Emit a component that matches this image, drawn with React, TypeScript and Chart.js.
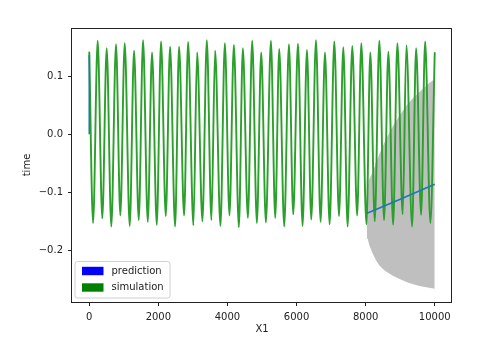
import React, { useEffect, useRef } from 'react';
import { Chart, registerables } from 'chart.js';

Chart.register(...registerables);

// Axis ticks
const xTicks = [0, 2000, 4000, 6000, 8000, 10000];
const yTicks = [-0.2, -0.1, 0.0, 0.1];

// Simulation: local maxima (incl. start and end) and minima
const simPeakX = [0, 243, 504, 774, 1026, 1296, 1557, 1817, 2078, 2339, 2600, 2861, 3122, 3403, 3643, 3925, 4186, 4446, 4716,
  4977, 5258, 5499, 5780, 6041, 6301, 6562, 6823, 7093, 7354, 7614, 7875, 8136, 8397, 8658, 8919, 9180, 9461, 9722, 10000];
const simPeakY = [0.141, 0.161, 0.148, 0.155, 0.157, 0.144, 0.162, 0.141, 0.160, 0.151, 0.151, 0.159, 0.141, 0.162, 0.144, 0.157, 0.154, 0.148, 0.161,
  0.141, 0.161, 0.147, 0.155, 0.156, 0.145, 0.162, 0.141, 0.160, 0.150, 0.152, 0.157, 0.141, 0.161, 0.142, 0.157, 0.153, 0.148, 0.160, 0.140];
const simTroughX = [110, 377, 638, 899, 1171, 1432, 1693, 1954, 2214, 2484, 2745, 3014, 3275, 3536, 3797, 4058, 4330, 4591, 4852,
  5113, 5383, 5643, 5904, 6174, 6426, 6696, 6957, 7229, 7478, 7754, 8023, 8264, 8534, 8796, 9072, 9345, 9606, 9875];
const simTroughY = [-0.153, -0.145, -0.159, -0.140, -0.158, -0.148, -0.151, -0.156, -0.141, -0.159,
  -0.140, -0.157, -0.150, -0.148, -0.158, -0.140, -0.160, -0.144, -0.153, -0.152,
  -0.144, -0.159, -0.138, -0.158, -0.147, -0.151, -0.155, -0.141, -0.159, -0.140,
  -0.155, -0.150, -0.148, -0.156, -0.138, -0.159, -0.139, -0.153];

// Prediction
const predStartX = [0, 0];
const predStartY = [0.0, 0.136];
const predX = [8040, 9000, 10000];
const predY = [-0.136, -0.112, -0.086];

// Uncertainty band
const bandX = [8040, 8060, 8100, 8200, 8300, 8400, 8500, 8600, 8800, 9000, 9200, 9400, 9600, 9800, 10000];
const bandUpper = [-0.136, -0.090, -0.078, -0.066, -0.049, -0.034, -0.020, -0.007, 0.015, 0.034, 0.051, 0.064, 0.075, 0.086, 0.095];
const bandLower = [-0.136, -0.180, -0.190, -0.205, -0.217, -0.226, -0.232, -0.237, -0.244, -0.250, -0.255, -0.259, -0.262, -0.264, -0.266];

const legendLabels = ['prediction', 'simulation'];
const legendColors = ['#0000ff', '#008000'];

const FONT = 'DejaVu Sans';

function fmtY(v: number) {
  const s = Math.abs(v).toFixed(1);
  return v < -1e-9 ? '\u2212' + s : s;
}

export default function App() {
  const ref = useRef<HTMLCanvasElement | null>(null);

  useEffect(() => {
    if (!ref.current) return;
    const simData: { x: number; y: number }[] = [];
    for (let i = 0; i < simPeakX.length; i++) {
      simData.push({ x: simPeakX[i], y: simPeakY[i] });
      if (i < simTroughX.length) simData.push({ x: simTroughX[i], y: simTroughY[i] });
    }
    const predData = [
      ...predStartX.map((x, i) => ({ x, y: predStartY[i] })),
      { x: 4000, y: null as any },
      ...predX.map((x, i) => ({ x, y: predY[i] })),
    ];

    const spines = {
      id: 'spines',
      afterDraw(chart: any) {
        const { ctx, chartArea: a } = chart;
        ctx.save();
        ctx.strokeStyle = '#222';
        ctx.lineWidth = 1;
        ctx.strokeRect(Math.round(a.left) - 0.5, Math.round(a.top) + 0.5, Math.round(a.right - a.left), Math.round(a.bottom - a.top));
        ctx.restore();
      },
    };

    const legend = {
      id: 'customLegend',
      afterDatasetsDraw(chart: any) {
        const { ctx } = chart;
        ctx.save();
        const x0 = 75, y0 = 261.5, w = 95, h = 36.5, r = 2.5;
        ctx.beginPath();
        ctx.moveTo(x0 + r, y0);
        ctx.lineTo(x0 + w - r, y0);
        ctx.arcTo(x0 + w, y0, x0 + w, y0 + r, r);
        ctx.lineTo(x0 + w, y0 + h - r);
        ctx.arcTo(x0 + w, y0 + h, x0 + w - r, y0 + h, r);
        ctx.lineTo(x0 + r, y0 + h);
        ctx.arcTo(x0, y0 + h, x0, y0 + h - r, r);
        ctx.lineTo(x0, y0 + r);
        ctx.arcTo(x0, y0, x0 + r, y0, r);
        ctx.closePath();
        ctx.fillStyle = 'rgba(255,255,255,0.8)';
        ctx.fill();
        ctx.strokeStyle = '#d0d0d0';
        ctx.lineWidth = 1;
        ctx.stroke();
        ctx.font = `10px "${FONT}"`;
        ctx.textBaseline = 'middle';
        ctx.textAlign = 'left';
        for (let i = 0; i < legendLabels.length; i++) {
          const cy = 271 + i * 16.5;
          ctx.fillStyle = legendColors[i];
          ctx.fillRect(82, cy - 4.2, 21.5, 8.4);
          ctx.fillStyle = '#222';
          ctx.fillText(legendLabels[i], 111.5, cy);
        }
        ctx.restore();
      },
    };

    const chart = new Chart(ref.current, {
      type: 'line',
      data: {
        datasets: [
          {
            label: 'prediction',
            data: predData,
            borderColor: '#1f77b4',
            borderWidth: 1.6,
            pointRadius: 0,
            spanGaps: false,
            fill: false,
          },
          {
            label: 'simulation',
            data: simData,
            borderColor: '#2ca02c',
            borderWidth: 1.9,
            borderJoinStyle: 'round',
            borderCapStyle: 'round',
            pointRadius: 0,
            cubicInterpolationMode: 'monotone',
            fill: false,
          },
          {
            label: 'upper',
            data: bandX.map((x, i) => ({ x, y: bandUpper[i] })),
            borderWidth: 0,
            borderColor: 'rgba(0,0,0,0)',
            pointRadius: 0,
            backgroundColor: 'rgba(128,128,128,0.5)',
            fill: '+1',
          },
          {
            label: 'lower',
            data: bandX.map((x, i) => ({ x, y: bandLower[i] })),
            borderWidth: 0,
            borderColor: 'rgba(0,0,0,0)',
            pointRadius: 0,
            fill: false,
          },
        ],
      },
      options: {
        responsive: false,
        animation: false,
        parsing: false,
        normalized: true,
        layout: { padding: { left: 0, top: 28, right: 38, bottom: 0 } },
        plugins: {
          legend: { display: false },
          tooltip: { enabled: false },
        },
        scales: {
          x: {
            type: 'linear',
            min: -500,
            max: 10500,
            afterFit(scale: any) { scale.height = 51; },
            afterBuildTicks(scale: any) { scale.ticks = xTicks.map((v) => ({ value: v })); },
            ticks: {
              color: '#222',
              font: { family: FONT, size: 10 },
              padding: 5,
              maxRotation: 0,
              autoSkip: false,
              callback: (v: any) => String(v),
            },
            grid: { drawOnChartArea: false, drawTicks: true, tickLength: 4, tickColor: '#222', color: '#222' },
            border: { display: false },
            title: {
              display: true,
              text: 'X1',
              color: '#222',
              font: { family: FONT, size: 10 },
              padding: { top: 0, bottom: 18 },
            },
          },
          y: {
            type: 'linear',
            min: -0.289,
            max: 0.183,
            afterFit(scale: any) { scale.width = 72; },
            afterBuildTicks(scale: any) { scale.ticks = yTicks.map((v) => ({ value: v })); },
            ticks: {
              color: '#222',
              font: { family: FONT, size: 10 },
              padding: 5,
              autoSkip: false,
              callback: (v: any) => fmtY(Number(v)),
            },
            grid: { drawOnChartArea: false, drawTicks: true, tickLength: 4, tickColor: '#222', color: '#222' },
            border: { display: false },
            title: {
              display: true,
              text: 'time',
              color: '#222',
              font: { family: FONT, size: 10 },
              padding: { top: 21, bottom: 0 },
            },
          },
        },
      } as any,
      plugins: [spines, legend],
    });
    return () => chart.destroy();
  }, []);

  return (
    <div style={{ position: 'fixed', left: 0, top: 0, width: 490, height: 353, background: '#fff' }}>
      <canvas ref={ref} width={490} height={353} style={{ width: 490, height: 353, display: 'block' }} />
    </div>
  );
}
